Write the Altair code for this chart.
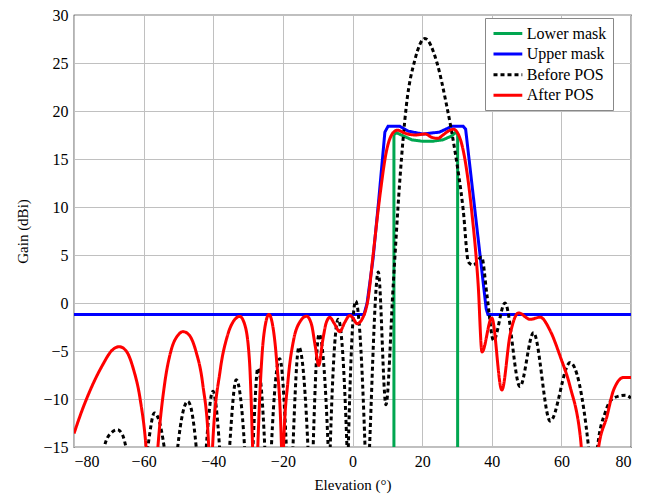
import altair as alt
import pandas as pd

# Lower mask
lower_x = [11.9, 11.9, 12.6, 14.0, 17.0, 20.0, 23.0, 26.0, 28.5, 29.5, 30.2, 30.2]
lower_y = [-20, 17.5, 17.75, 17.5, 17.0, 16.85, 16.85, 17.0, 17.4, 17.75, 17.6, -20]

# Upper mask
upper_x = [-80, 3.3, 4.2, 5.9, 7.5, 9.3, 10.2, 13.6, 16.0, 20.2, 25.0, 28.5, 31.8, 32.5, 38.4, 38.9, 80]
upper_y = [-1.2, -1.2, 0.0, 4.6, 10.6, 17.8, 18.4, 18.4, 17.9, 17.6, 17.8, 18.4, 18.4, 18.1, -0.6, -1.2, -1.2]

# Before POS
before_x = [-72.5, -71.3, -69.5, -67.5, -66.0, -65.1, -62.0, -58.8, -56.9, -54.1, -52.0,
            -50.2, -47.3, -44.9, -43.5, -42.0, -40.1, -38.2, -36.8, -35.3, -33.4, -31.0, -29.8,
            -28.6, -27.2, -25.2, -24.2, -23.3, -20.9, -19.0, -18.0, -17.1, -15.4, -12.8, -12.0,
            -11.3, -9.6, -7.0, -6.75, -6.4, -4.1, -1.6, -1.4, -1.2, 0.9, 3.6, 4.2, 4.9, 7.4, 9.6,
            11.7, 13.6, 15.5, 17.9, 20.8, 24.2, 27.0, 29.4, 31.8, 33.3, 34.7, 37.1, 38.6, 40.5,
            43.8, 48.1, 52.0, 56.8, 62.5, 67.8, 69.2, 70.4, 72.6, 75.0, 78.4, 80.0]
before_y = [-22, -15, -13.6, -13.2, -13.8, -15, -25, -15, -11.45, -15, -25,
            -15, -10.25, -15, -25, -15, -9.2, -15, -25, -15, -8.0, -15, -25,
            -15, -6.8, -15, -25, -15, -5.8, -15, -25, -15, -4.6, -15, -25,
            -15, -3.25, -15, -22, -15, -1.7, -15, -22, -15, 0.2, -15, -22, -15, 3.24, -10.6,
            1.9, 12.8, 20.65, 25.3, 27.55, 25.1, 20.65, 15.9, 9.7, 4.26, 3.95, 4.8, 0.9, -3.9,
            0.0, -8.7, -3.1, -12.3, -6.2, -15, -22, -15, -11.4, -9.9, -9.6, -9.9]

# After POS
after_x = [-80, -78.5, -75, -72, -69, -67, -65, -63, -61, -59.3, -57.6, -55.9, -54, -52, -50,
           -48.7, -47, -45, -43, -41.3, -40.8, -40.2, -38, -36, -34, -32.4, -31, -29.6, -28.7,
           -28, -27.2, -26, -25, -24.0, -23, -21.8, -20.4, -20.1, -19.8, -18.5, -17, -15, -13.2,
           -11.8, -10.7, -9.7, -8.6, -7.5, -6.5, -5.3, -3.65, -2.2, -0.8, 0.2, 1.3, 3.0, 4.5,
           5.9, 7.85, 9.8, 11.7, 12.9, 15.0, 18.0, 21.0, 22.5, 24.5, 26.0, 27.5, 29.0, 30.5,
           31.8, 34.2, 36.1, 37.2, 40.0, 42.9, 45.3, 47.7, 51.0, 53.9, 56.8, 59.7, 62.5, 65.4,
           68.0, 70.7, 73.1, 75.0, 77.9, 80.0]
after_y = [-13.6, -12.0, -8.8, -6.6, -4.9, -4.55, -5.0, -6.8, -10.0, -15, -25, -15, -8.5, -4.8, -3.3,
           -2.98, -3.3, -5.0, -8.5, -15, -25, -15, -7.0, -3.5, -1.8, -1.4, -2.2, -6.0, -15,
           -25, -15, -5.5, -2.2, -1.2, -2.2, -6.0, -15, -25, -15, -8.0, -4.0, -1.9, -1.37,
           -2.2, -4.5, -6.5, -4.0, -2.0, -1.5, -2.1, -2.98, -2.0, -1.3, -1.6, -2.16, -1.5, 0.5,
           4.95, 11.1, 15.9, 17.75, 18.0, 17.7, 17.5, 17.6, 17.3, 17.15, 17.5, 17.9, 18.1, 17.5,
           15.9, 9.7, 1.9, -5.1, -1.55, -9.06, -3.25, -1.03, -1.7, -1.48, -2.9, -5.6, -8.7, -13.8,
           -25, -15, -11.8, -9.06, -7.75, -7.75]

series_names = ["Lower mask", "Upper mask", "Before POS", "After POS"]
series_colors = ["#00a650", "#0000ff", "#000000", "#ff0000"]
series_dash = [[1, 0], [1, 0], [4, 3], [1, 0]]

frames = []
for name, xs, ys in [("Lower mask", lower_x, lower_y), ("Upper mask", upper_x, upper_y),
                     ("Before POS", before_x, before_y), ("After POS", after_x, after_y)]:
    frames.append(pd.DataFrame({"x": xs, "y": ys, "series": name, "i": range(len(xs))}))

FONT = "Liberation Serif"

color = alt.Color("series:N", scale=alt.Scale(domain=series_names, range=series_colors),
                  legend=alt.Legend(title=None, orient="none", legendX=411, legendY=3,
                                    symbolType="M-1.8,0H1.8", symbolSize=256, symbolStrokeWidth=3,
                                    symbolOffset=7.4,
                                    labelFont=FONT, labelFontSize=16, labelColor="black",
                                    labelOffset=9.4, rowPadding=2.6, padding=6,
                                    strokeColor="#888888", fillColor="white",
                                    cornerRadius=0))
dash = alt.StrokeDash("series:N", scale=alt.Scale(domain=series_names, range=series_dash),
                      legend=None)

xenc = alt.X("x:Q", scale=alt.Scale(domain=[-80, 80], nice=False),
             axis=alt.Axis(title="Elevation (°)", values=list(range(-80, 81, 20)),
                           labelFont=FONT, titleFont=FONT))
yenc = alt.Y("y:Q", scale=alt.Scale(domain=[-15, 30], nice=False),
             axis=alt.Axis(title="Gain (dBi)", values=list(range(-15, 31, 5)),
                           labelFont=FONT, titleFont=FONT))

layers = []
for k, f in enumerate(frames):
    interp = "linear" if k < 2 else "monotone"
    layers.append(
        alt.Chart(f).mark_line(strokeWidth=3, clip=True, interpolate=interp).encode(
            x=xenc, y=yenc, color=color, strokeDash=dash, order="i:Q"
        )
    )

chart = alt.layer(*layers).properties(
    width=557, height=432,
    autosize=alt.AutoSizeParams(type="none"),
    padding={"left": 66, "top": 7, "right": 26, "bottom": 50},
).configure(font=FONT).configure_view(stroke="black", strokeWidth=1.2).configure_axis(
    labelFont=FONT, labelFontSize=16, labelColor="black", titleFont=FONT, titleFontSize=15,
    titleColor="black", titleFontWeight="normal", gridColor="#c0c0c0", gridWidth=1,
    domain=False, ticks=False, labelPadding=6,
).configure_axisX(titlePadding=8).configure_axisY(titlePadding=12).configure_legend(
    labelFont=FONT)

chart.save("out.html", embed_options={"renderer": "svg", "actions": False})
